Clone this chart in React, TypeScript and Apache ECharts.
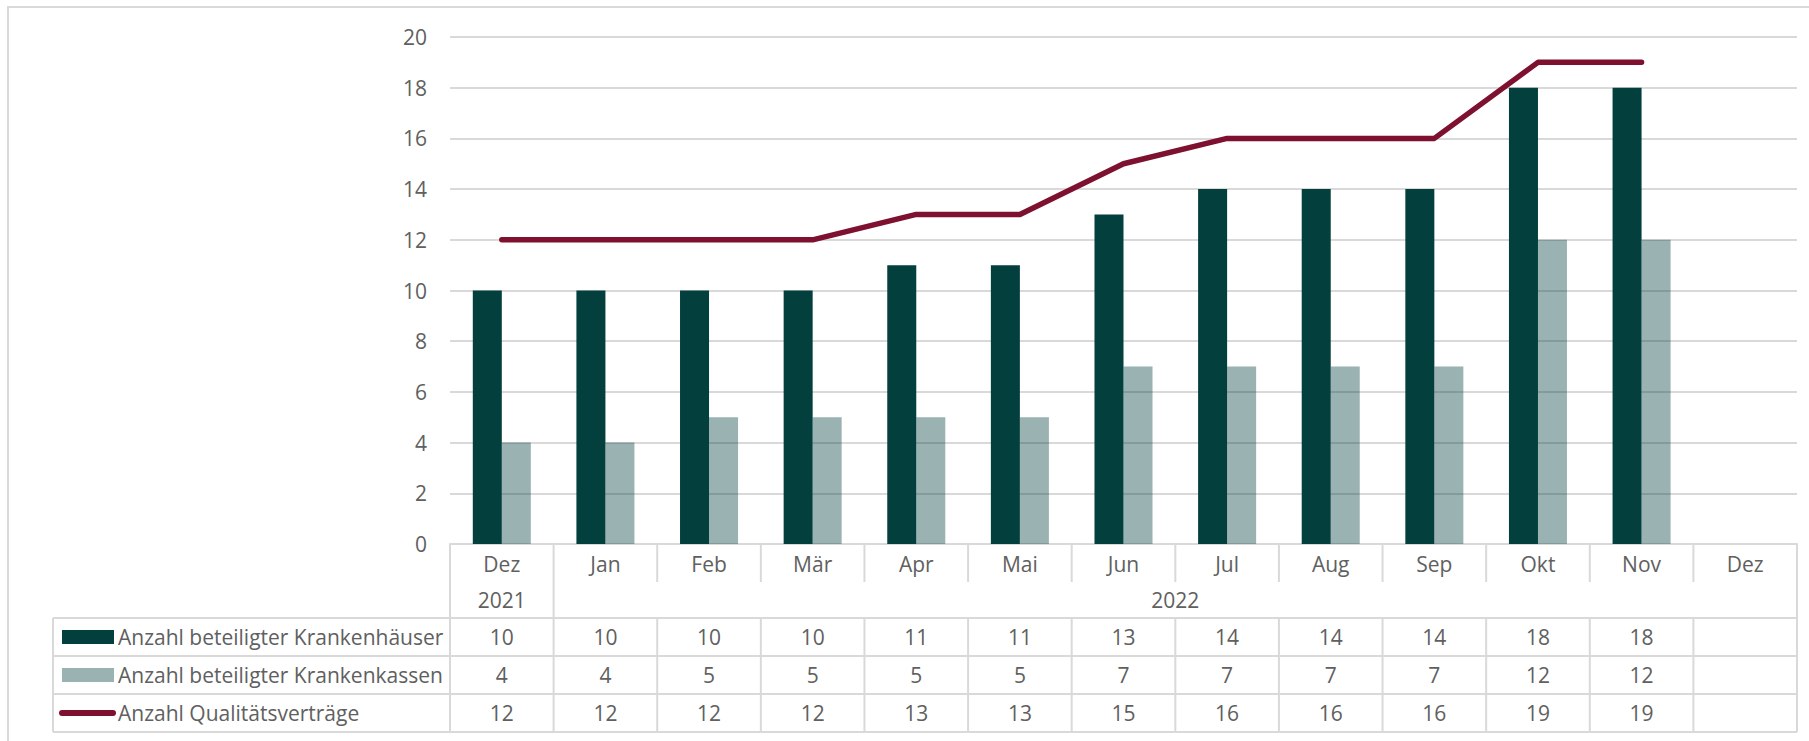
import React, { useEffect, useRef } from "react";
import * as echarts from "echarts";

const months = ["Dez", "Jan", "Feb", "Mär", "Apr", "Mai", "Jun", "Jul", "Aug", "Sep", "Okt", "Nov", "Dez"];
const yearGroups = [
  { label: "2021", from: 0, to: 0 },
  { label: "2022", from: 1, to: 12 },
];
const seriesNames = [
  "Anzahl beteiligter Krankenhäuser",
  "Anzahl beteiligter Krankenkassen",
  "Anzahl Qualitätsverträge",
];
const krankenhaeuser = [10, 10, 10, 10, 11, 11, 13, 14, 14, 14, 18, 18, null];
const krankenkassen = [4, 4, 5, 5, 5, 5, 7, 7, 7, 7, 12, 12, null];
const vertraege = [12, 12, 12, 12, 13, 13, 15, 16, 16, 16, 19, 19, null];
const yTicks = { min: 0, max: 20, interval: 2 };

const DARK = "#033f3d";
const LINE = "#7f1130";
const GRID = "#d9d9d9";
const TEXT = "#606060";
const FONT = "Open Sans";
const FS = 21;

export default function App() {
  const ref = useRef<HTMLDivElement>(null);
  useEffect(() => {
    document.body.style.margin = "0";
    const chart = echarts.init(ref.current!, null, { renderer: "svg" });
    chart.setOption({
      animation: false,
      textStyle: { fontFamily: FONT },
      grid: { left: 450, right: 12, top: 37, bottom: 197 },
      xAxis: {
        type: "category",
        data: months,
        axisLine: { show: true, lineStyle: { color: GRID, width: 2 } },
        axisTick: { show: false },
        axisLabel: { show: false },
      },
      yAxis: {
        type: "value",
        min: yTicks.min,
        max: yTicks.max,
        interval: yTicks.interval,
        axisLine: { show: false },
        axisTick: { show: false },
        axisLabel: { fontSize: FS, color: TEXT, margin: 23, fontFamily: FONT },
        splitLine: { lineStyle: { color: GRID, width: 2 } },
      },
      series: [
        {
          name: seriesNames[0],
          type: "bar",
          data: krankenhaeuser,
          barGap: "0%",
          barCategoryGap: "44%",
          itemStyle: { color: DARK },
        },
        {
          name: seriesNames[1],
          type: "bar",
          data: krankenkassen,
          itemStyle: { color: DARK, opacity: 0.4 },
        },
        {
          name: seriesNames[2],
          type: "line",
          data: vertraege,
          symbol: "none",
          lineStyle: { color: LINE, width: 5.5, cap: "round", join: "round" },
          z: 5,
        },
      ],
    });

    const xc = (i: number) => chart.convertToPixel({ xAxisIndex: 0 }, i) as number;
    const half = (xc(1) - xc(0)) / 2;
    const bound = (k: number) => (k < months.length ? xc(k) - half : xc(months.length - 1) + half);
    const yTop = chart.convertToPixel({ yAxisIndex: 0 }, 0) as number;
    const monthBottom = yTop + 38;
    const rowTops = [618, 656, 694];
    const rowBottom = 732;
    const legendLeft = 53;
    const left = bound(0);
    const right = bound(months.length);

    const els: any[] = [];
    const ln = (x1: number, y1: number, x2: number, y2: number) =>
      els.push({
        type: "line",
        silent: true,
        shape: { x1, y1, x2, y2 },
        style: { stroke: GRID, lineWidth: 2 },
      });
    const tx = (x: number, y: number, text: string, align = "center") =>
      els.push({
        type: "text",
        silent: true,
        x,
        y,
        style: {
          text,
          fontSize: FS,
          fontFamily: FONT,
          fill: TEXT,
          align,
          verticalAlign: "middle",
        },
      });

    // outer chart border
    els.push({
      type: "rect",
      silent: true,
      shape: { x: 8, y: 7, width: 1830, height: 760 },
      style: { fill: "none", stroke: GRID, lineWidth: 2 },
    });

    // horizontal lines
    ln(left, yTop, right, yTop);
    rowTops.forEach((y) => ln(legendLeft, y, right, y));
    ln(legendLeft, rowBottom, right, rowBottom);
    // vertical lines
    ln(legendLeft, rowTops[0], legendLeft, rowBottom);
    const groupStarts = yearGroups.map((g) => g.from);
    for (let k = 0; k <= months.length; k++) {
      const x = bound(k);
      if (k === 0 || k === months.length || groupStarts.includes(k)) {
        ln(x, yTop, x, rowBottom);
      } else {
        ln(x, yTop, x, monthBottom);
        ln(x, rowTops[0], x, rowBottom);
      }
    }
    // month labels
    months.forEach((m, i) => tx(xc(i), yTop + 20, m));
    // year labels
    yearGroups.forEach((g) => tx((bound(g.from) + bound(g.to + 1)) / 2, 600, g.label));
    // data rows
    const rows = [krankenhaeuser, krankenkassen, vertraege];
    rows.forEach((vals, r) => {
      const cy = rowTops[r] + 19;
      vals.forEach((v, i) => {
        if (v != null) tx(xc(i), cy, String(v));
      });
      tx(118, cy, seriesNames[r], "left");
    });
    // legend keys
    els.push({
      type: "rect",
      silent: true,
      shape: { x: 62, y: rowTops[0] + 12, width: 52, height: 14 },
      style: { fill: DARK },
    });
    els.push({
      type: "rect",
      silent: true,
      shape: { x: 62, y: rowTops[1] + 12, width: 52, height: 14 },
      style: { fill: DARK, opacity: 0.4 },
    });
    els.push({
      type: "line",
      silent: true,
      shape: { x1: 62, y1: rowTops[2] + 19, x2: 113, y2: rowTops[2] + 19 },
      style: { stroke: LINE, lineWidth: 6, lineCap: "round" },
    });

    chart.setOption({ graphic: { elements: els } });
    return () => chart.dispose();
  }, []);
  return <div ref={ref} style={{ width: 1809, height: 741 }} />;
}
